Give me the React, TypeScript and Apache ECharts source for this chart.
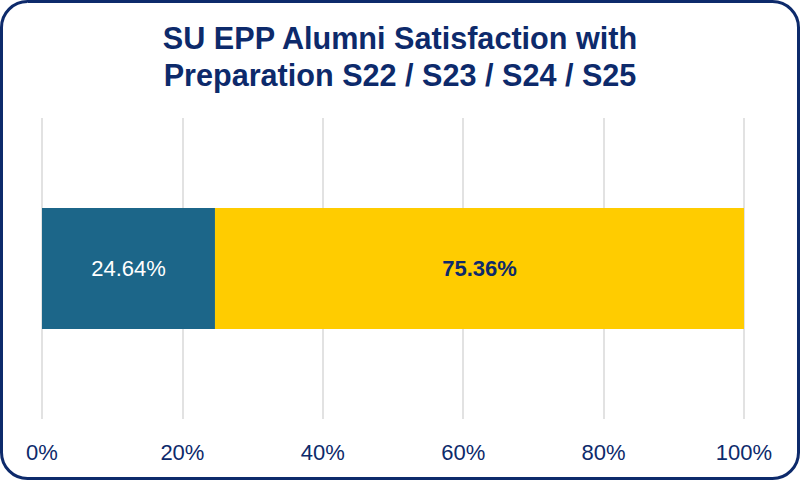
import React, { useEffect, useRef } from "react";
import * as echarts from "echarts";

const categories = ["S22 / S23 / S24 / S25"];
const dissatisfied = [24.64];
const satisfied = [75.36];
const tickValues = [0, 20, 40, 60, 80, 100];

const NAVY = "#0d2a6b";
const FONT = "Liberation Sans, Arial, sans-serif";

export default function App() {
  const ref = useRef<HTMLDivElement>(null);
  useEffect(() => {
    if (!ref.current) return;
    const chart = echarts.init(ref.current, null, { renderer: "svg" });
    chart.setOption({
      animation: false,
      backgroundColor: "#ffffff",
      title: {
        text: "SU EPP Alumni Satisfaction with\nPreparation S22 / S23 / S24 / S25",
        left: "center",
        top: 15,
        textStyle: {
          fontFamily: FONT,
          fontWeight: "bold",
          fontSize: 30.6,
          lineHeight: 36.5,
          color: NAVY,
        },
      },
      graphic: [
        {
          type: "rect",
          shape: { x: 1.5, y: 1.5, width: 797, height: 477, r: 26 },
          style: { fill: "none", stroke: NAVY, lineWidth: 3 },
          z: 10,
        },
      ],
      grid: { left: 42, right: 56, top: 118, bottom: 62 },
      xAxis: {
        type: "value",
        min: 0,
        max: 100,
        interval: 20,
        axisLine: { show: false },
        axisTick: { show: false },
        splitLine: { show: true, lineStyle: { color: "#d9d9d9", width: 1.5 } },
        axisLabel: {
          margin: 22,
          fontSize: 22,
          color: NAVY,
          fontFamily: FONT,
          customValues: tickValues,
          formatter: (v: number) => `${v}%`,
        },
      },
      yAxis: {
        type: "category",
        data: categories,
        axisLine: { show: false },
        axisTick: { show: false },
        axisLabel: { show: false },
      },
      series: [
        {
          type: "bar",
          stack: "total",
          data: dissatisfied,
          barWidth: 121,
          itemStyle: { color: "#1c6689" },
          label: {
            show: true,
            position: "inside",
            formatter: (p: any) => `${p.value.toFixed(2)}%`,
            color: "#ffffff",
            fontSize: 22,
            fontFamily: FONT,
          },
        },
        {
          type: "bar",
          stack: "total",
          data: satisfied,
          barWidth: 121,
          itemStyle: { color: "#ffcc00" },
          label: {
            show: true,
            position: "inside",
            formatter: (p: any) => `${p.value.toFixed(2)}%`,
            color: NAVY,
            fontWeight: "bold",
            fontSize: 22,
            fontFamily: FONT,
          },
        },
      ],
    });
    return () => chart.dispose();
  }, []);
  return (
    <div
      ref={ref}
      style={{ position: "fixed", left: 0, top: 0, width: 800, height: 481 }}
    />
  );
}
